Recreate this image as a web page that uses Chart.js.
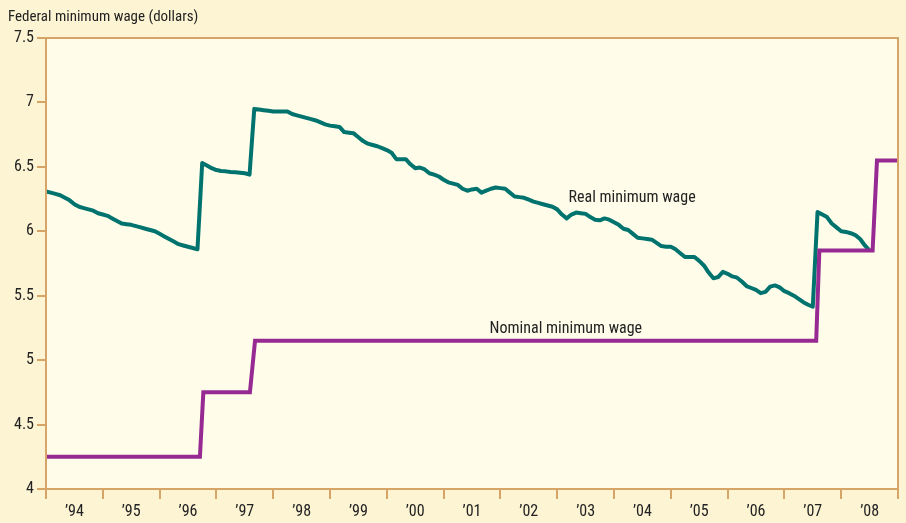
<!DOCTYPE html>
<html lang="en">
<head>
    <meta charset="UTF-8">
    <title>Federal minimum wage</title>
    <script src="https://cdn.jsdelivr.net/npm/chart.js"></script>
    <style>
        html, body { margin: 0; padding: 0; background: #fcf4d3; }
        #wrap { width: 906px; height: 523px; }
    </style>
</head>
<body>
    <div id="wrap"><canvas id="plot" width="906" height="523"></canvas></div>

    <script>
        // real minimum wage, monthly from Jan 1994 to Jul 2008
        const realStart = 1994;
        const realValues = [
            6.31, 6.30, 6.29, 6.28, 6.26, 6.24, 6.21, 6.19, 6.18, 6.17, 6.16, 6.14,   // 1994
            6.13, 6.12, 6.10, 6.08, 6.06, 6.055, 6.05, 6.04, 6.03, 6.02, 6.01, 6.00,  // 1995
            5.98, 5.96, 5.94, 5.92, 5.90, 5.89, 5.88, 5.87, 5.86, 6.53, 6.51, 6.49,   // 1996
            6.475, 6.468, 6.465, 6.46, 6.458, 6.455, 6.45, 6.44, 6.95, 6.945, 6.94, 6.935, // 1997
            6.93, 6.93, 6.93, 6.93, 6.91, 6.90, 6.89, 6.88, 6.87, 6.86, 6.845, 6.83,  // 1998
            6.82, 6.815, 6.81, 6.77, 6.765, 6.76, 6.73, 6.70, 6.68, 6.67, 6.66, 6.645, // 1999
            6.63, 6.61, 6.56, 6.56, 6.56, 6.52, 6.49, 6.495, 6.48, 6.45, 6.44, 6.425, // 2000
            6.40, 6.38, 6.37, 6.36, 6.33, 6.315, 6.325, 6.33, 6.30, 6.315, 6.33, 6.34, // 2001
            6.335, 6.33, 6.30, 6.27, 6.265, 6.26, 6.245, 6.23, 6.22, 6.21, 6.20, 6.19, // 2002
            6.17, 6.13, 6.10, 6.13, 6.145, 6.14, 6.135, 6.11, 6.09, 6.085, 6.10, 6.09, // 2003
            6.07, 6.05, 6.02, 6.01, 5.98, 5.95, 5.945, 5.94, 5.935, 5.91, 5.885, 5.88, // 2004
            5.88, 5.86, 5.83, 5.80, 5.80, 5.80, 5.77, 5.735, 5.68, 5.635, 5.645, 5.685, // 2005
            5.67, 5.65, 5.64, 5.61, 5.575, 5.56, 5.545, 5.52, 5.53, 5.57, 5.58, 5.565, // 2006
            5.535, 5.52, 5.50, 5.475, 5.45, 5.43, 5.415, 6.15, 6.13, 6.11, 6.06, 6.03, // 2007
            6.00, 5.995, 5.985, 5.97, 5.94, 5.89, 5.85                                 // 2008
        ];

        // nominal minimum wage: end points of each flat step
        const nominalDates = [1994, 1996.71, 1996.77, 1997.59, 1997.68, 2007.56, 2007.615, 2008.553, 2008.63, 2009];
        const nominalValues = [4.25, 4.25, 4.75, 4.75, 5.15, 5.15, 5.85, 5.85, 6.55, 6.55];

        const yearTicks = [1994, 1995, 1996, 1997, 1998, 1999, 2000, 2001, 2002, 2003, 2004, 2005, 2006, 2007, 2008];

        const axisTitle = 'Federal minimum wage (dollars)';
        const realLabel = 'Real minimum wage';
        const nominalLabel = 'Nominal minimum wage';

        const FONT = "'Liberation Sans Narrow', 'Roboto Condensed', 'Liberation Sans', sans-serif";
        const TAN = '#d5a466';
        const TEAL = '#00736f';
        const PURPLE = '#962a92';

        const realData = realValues.map((v, i) => ({ x: realStart + i / 12, y: v }));
        const nominalData = nominalDates.map((d, i) => ({ x: d, y: nominalValues[i] }));

        // backgrounds, frame and the text labels
        const decor = {
            id: 'decor',
            beforeDraw(chart) {
                const { ctx, chartArea: a } = chart;
                ctx.save();
                ctx.fillStyle = '#fcf4d3';
                ctx.fillRect(0, 0, chart.width, chart.height);
                ctx.fillStyle = '#fffde9';
                ctx.fillRect(a.left, a.top, a.right - a.left, a.bottom - a.top);
                ctx.restore();
            },
            afterDraw(chart) {
                const { ctx, chartArea: a, scales } = chart;
                ctx.save();
                ctx.strokeStyle = TAN;
                ctx.lineWidth = 2;
                ctx.strokeRect(a.left, a.top, a.right - a.left, a.bottom - a.top);

                ctx.fillStyle = '#222';
                ctx.font = '15px ' + FONT;
                ctx.textBaseline = 'middle';
                ctx.textAlign = 'left';
                ctx.fillText(axisTitle, 8, 17);

                ctx.font = '16px ' + FONT;
                ctx.fillText(realLabel, scales.x.getPixelForValue(2003.2), scales.y.getPixelForValue(6.258));
                ctx.fillText(nominalLabel, scales.x.getPixelForValue(2001.81), scales.y.getPixelForValue(5.242));
                ctx.restore();
            }
        };

        const ctx = document.getElementById('plot').getContext('2d');
        new Chart(ctx, {
            type: 'line',
            data: {
                datasets: [
                    {
                        label: nominalLabel,
                        data: nominalData,
                        borderColor: PURPLE,
                        borderWidth: 4,
                        pointRadius: 0,
                        tension: 0,
                        fill: false
                    },
                    {
                        label: realLabel,
                        data: realData,
                        borderColor: TEAL,
                        borderWidth: 4,
                        pointRadius: 0,
                        tension: 0,
                        borderJoinStyle: 'round',
                        fill: false
                    }
                ]
            },
            options: {
                responsive: false,
                animation: false,
                layout: { padding: { left: 0, right: 8, top: 38, bottom: 0 } },
                plugins: {
                    legend: { display: false },
                    tooltip: { enabled: false }
                },
                scales: {
                    x: {
                        type: 'linear',
                        min: 1994,
                        max: 2009,
                        afterBuildTicks(scale) {
                            scale.ticks = yearTicks.concat([2009]).map(v => ({ value: v }));
                        },
                        afterFit(scale) { scale.height = 34; },
                        border: { display: false },
                        grid: {
                            drawOnChartArea: false,
                            drawTicks: true,
                            tickLength: 10,
                            color: TAN,
                            lineWidth: 2
                        },
                        ticks: {
                            autoSkip: false,
                            maxRotation: 0,
                            labelOffset: 28.4,
                            padding: 3,
                            color: '#222',
                            font: { family: FONT, size: 16 },
                            callback: v => (yearTicks.includes(v) ? '\u2019' + String(v).slice(2) : '')
                        }
                    },
                    y: {
                        min: 4,
                        max: 7.5,
                        afterFit(scale) { scale.width = 46; },
                        border: { display: false },
                        grid: {
                            drawOnChartArea: false,
                            drawTicks: true,
                            tickLength: 9,
                            color: TAN,
                            lineWidth: 2
                        },
                        ticks: {
                            stepSize: 0.5,
                            padding: 3,
                            color: '#222',
                            font: { family: FONT, size: 16 },
                            callback: v => String(v)
                        }
                    }
                }
            },
            plugins: [decor]
        });
    </script>
</body>
</html>
